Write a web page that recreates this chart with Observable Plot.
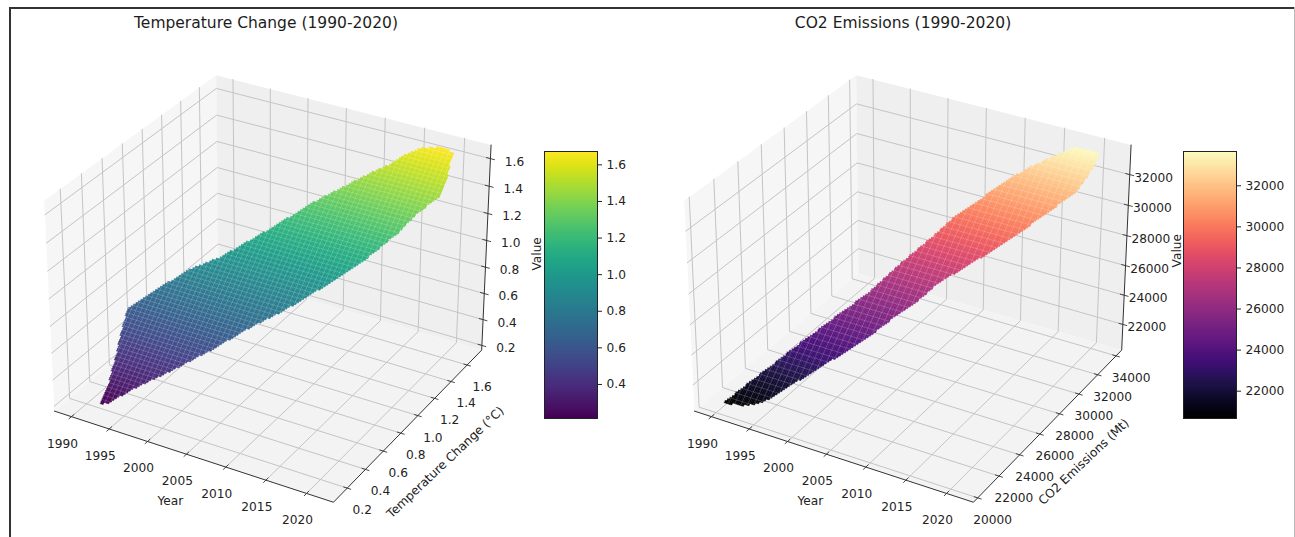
<!DOCTYPE html>
<html><head><meta charset="utf-8">
<script src="https://cdn.jsdelivr.net/npm/d3@7"></script>
<script src="https://cdn.jsdelivr.net/npm/@observablehq/plot@0.6"></script>
<style>
html,body{margin:0;padding:0;background:#fff;font-family:"DejaVu Sans",sans-serif}
#page{position:relative;width:1295px;height:537px;overflow:hidden;background:#fff}
#page>*{position:absolute}
.title{font-size:15.5px;color:#1c1c1c;white-space:nowrap;transform:translateX(-50%)}
</style></head><body><div id="page"></div>
<script>
const yearTicks=[1990,1995,2000,2005,2010,2015,2020];
const tempTicks=[0.2,0.4,0.6,0.8,1.0,1.2,1.4,1.6];
const tempBarTicks=[0.4,0.6,0.8,1.0,1.2,1.4,1.6];
const co2Ticks=[20000,22000,24000,26000,28000,30000,32000,34000];
const co2ZTicks=[22000,24000,26000,28000,30000,32000];
// outline of each surface
const tempHullYear=[1991.9,1992.7,1995,1999,2002.2,2005.1,2008.3,2011.4,2014.7,2017.4,2018.9,2020.3,2020.5,2020.1,2019.9,2018.2,2016,2014.2,2013.1,2011.5,2009.7,2008.2,2007,2002.5,1998.4,1995.2,1990.2,1990.4,1991.1,1991.9];
const tempHullValue=[0.2,0.21,0.304,0.445,0.567,0.69,0.807,0.941,1.091,1.258,1.379,1.449,1.52,1.591,1.66,1.667,1.641,1.581,1.532,1.479,1.414,1.357,1.316,1.12,0.951,0.856,0.629,0.557,0.438,0.274];
const co2HullYear=[1990.2,1992.3,1994.2,1995.4,1997.3,1999.3,2001.8,2003.9,2005.4,2007.3,2008.7,2012.3,2014.6,2017.5,2019.8,2020.6,2020.5,2017.7,2015.8,2013.4,2010.8,2009.1,2007.3,2005.5,2003.5,2001.2,1998.6,1997.6,1995.5,1994,1992];
const co2HullValue=[20564,20652,20917,21241,22031,22831,23802,24729,25482,26350,27175,28565,29471,30831,31901,32992,33562,33575,33082,32370,31401,30538,29759,28643,27517,26073,24836,24333,23316,22520,21513];

const EL=Math.PI/6,AZ=-Math.PI/3,DIST=10,BOX=[1.1905,1.1905,0.8929],S=2685,CX=271.5,CY=278;
const n=[Math.cos(EL)*Math.cos(AZ),Math.cos(EL)*Math.sin(AZ),Math.sin(EL)];
const ux=[-n[1],n[0],0].map(d=>d/Math.hypot(n[0],n[1]));
const vx=[n[1]*ux[2]-n[2]*ux[1],n[2]*ux[0]-n[0]*ux[2],n[0]*ux[1]-n[1]*ux[0]];
const dot=(a,b)=>a[0]*b[0]+a[1]*b[1]+a[2]*b[2];
function project(u,v,w){
  const p=[(u-.5)*BOX[0]-DIST*n[0],(v-.5)*BOX[1]-DIST*n[1],(w-.5)*BOX[2]-DIST*n[2]];
  const W=-dot(p,n);
  return [CX+S*dot(p,ux)/W,CY-S*dot(p,vx)/W];
}
const xLim=[1987.72,2023.27],gridYears=[1990,2020.6];
function chart(c){
  const U=t=>(t-xLim[0])/(xLim[1]-xLim[0]),V=t=>(t-c.yLim[0])/(c.yLim[1]-c.yLim[0]),Wz=t=>(t-c.zLim[0])/(c.zLim[1]-c.zLim[0]);
  const P=(u,v,w)=>{const [x,y]=project(u,v,w);return {x,y};};
  const poly=(id,pts,o={})=>pts.map(p=>({id,...P(...p),...o}));
  const panes=[
    poly("l",[[0,0,0],[0,1,0],[0,1,1],[0,0,1]],{f:"#f6f6f6"}),
    poly("b",[[0,1,0],[1,1,0],[1,1,1],[0,1,1]],{f:"#efefef"}),
    poly("f",[[0,0,0],[1,0,0],[1,1,0],[0,1,0]],{f:"#f3f3f3"})].flat();
  const grid=[
    ...yearTicks.flatMap(t=>poly("x"+t,[[U(t),0,0],[U(t),1,0],[U(t),1,1]])),
    ...c.yTicks.flatMap(t=>poly("y"+t,[[0,V(t),1],[0,V(t),0],[1,V(t),0]])),
    ...c.zTicks.flatMap(t=>poly("z"+t,[[1,1,Wz(t)],[0,1,Wz(t)],[0,0,Wz(t)]]))];
  const axes=poly("a",[[0,0,0],[1,0,0],[1,1,0],[1,1,1]]);
  const ticks=[
    ...yearTicks.flatMap(t=>poly("x"+t,[[U(t),-.014,0],[U(t),.014,0]])),
    ...c.yTicks.flatMap(t=>poly("y"+t,[[1-.012,V(t),0],[1+.012,V(t),0]])),
    ...c.zTicks.flatMap(t=>poly("z"+t,[[1-.014,1,Wz(t)],[1+.014,1,Wz(t)]]))];
  const hull=c.hullYear.map((y,i)=>[y,c.hullValue[i]]);
  const S3=(yr,T)=>P(U(yr),V(T),Wz(T));
  const T0=d3.min(c.hullValue),T1=d3.max(c.hullValue),[Y0,Y1]=gridYears;
  const N=150,cells=[],dy=(Y1-Y0)/N,dt=(T1-T0)/N;
  for(let i=0;i<N;i++)for(let j=0;j<N;j++){
    const a=Y0+i*dy,b=T0+j*dt;
    if(!d3.polygonContains(hull,[a+dy/2,b+dt/2]))continue;
    const value=b+dt/2,id=i*N+j;
    [[a,b],[a+dy,b],[a+dy,b+dt],[a,b+dt]].forEach(q=>cells.push({id,value,...S3(q[0],q[1])}));
  }
  const mesh=[];
  const run=(id,f)=>{const s=d3.range(0,401).map(k=>f(k/400)).filter(q=>d3.polygonContains(hull,q));
    if(s.length>1){mesh.push({id,...S3(...s[0])},{id,...S3(...s[s.length-1])});}};
  for(let i=0;i<=c.meshYears;i++){const yr=Y0+(Y1-Y0)*i/c.meshYears;run("a"+i,k=>[yr,T0+(T1-T0)*k]);}
  for(let j=0;j<=c.meshValues;j++){const T=T0+(T1-T0)*j/c.meshValues;run("b"+j,k=>[Y0+(Y1-Y0)*k,T]);}
  const txt=(rows,o)=>Plot.text(rows,{x:"x",y:"y",text:"t",fontSize:12.2,fill:"#222",...o});
  const lab=(arr,f,fmt)=>arr.map(t=>({...f(t),t:fmt(t)}));
  return Plot.plot({width:640,height:537,margin:0,x:{axis:null,domain:[0,640],range:[0,640]},y:{axis:null,domain:[0,537],range:[0,537]},
    color:{type:"linear",scheme:c.scheme,domain:c.colorDomain},
    style:{background:"transparent",fontFamily:"DejaVu Sans",overflow:"visible"},
    marks:[
     Plot.line(panes,{x:"x",y:"y",z:"id",fill:"f",stroke:"none"}),
     Plot.line(grid,{x:"x",y:"y",z:"id",stroke:"#c4c4c4",strokeWidth:1}),
     Plot.line(axes,{x:"x",y:"y",z:"id",stroke:"#333",strokeWidth:1}),
     Plot.line(ticks,{x:"x",y:"y",z:"id",stroke:"#333",strokeWidth:.9}),
     Plot.line(cells,{x:"x",y:"y",z:"id",fill:"value",stroke:"value",strokeWidth:.6}),
     Plot.line(mesh,{x:"x",y:"y",z:"id",stroke:"#fff",strokeOpacity:.25,strokeWidth:.7}),
     txt(lab(yearTicks,t=>P(U(t),0,0),String),{dx:-9,dy:27}),
     txt(lab(c.yTicks,t=>P(1,V(t),0),c.fmt),{dx:15,dy:22}),
     txt(lab(c.zTicks,t=>P(1,1,Wz(t)),c.fmt),{dx:24,dy:3}),
     txt([{...P(U(2005),0,0),t:"Year"}],{dx:-16,dy:47}),
     txt([{...P(1,V(c.yMid),0),t:c.yLabel}],{dx:c.ylDx,dy:c.ylDy,rotate:-43.4}),
     txt([{...P(1,1,Wz(c.zMid)),t:"Value"}],{dx:c.zlDx,dy:0,rotate:-90})
    ]});
}
function colorbar(c){
  const L=d3.range(256),[a,b]=c.colorDomain,h=(b-a)/256;
  return Plot.plot({width:120,height:537,marginTop:151,marginBottom:119,marginLeft:0,marginRight:67,
    x:{axis:null,domain:[0,1]},y:{domain:[a,b],axis:null},color:{type:"linear",scheme:c.scheme,domain:c.colorDomain},
    style:{background:"transparent",fontFamily:"DejaVu Sans",overflow:"visible"},
    marks:[
     Plot.rect(L,{x1:0,x2:1,y1:i=>a+i*h,y2:i=>a+(i+1)*h,fill:i=>a+(i+.5)*h,shapeRendering:"crispEdges",inset:0}),
     Plot.frame({stroke:"#222",strokeWidth:1}),
     Plot.axisY(c.barTicks,{anchor:"right",tickSize:4,tickPadding:5,fontSize:12.2,label:null,tickFormat:c.fmt,color:"#222"})
    ]});
}
const page=document.getElementById("page");
function add(el,l,t){el.style.left=l+"px";el.style.top=t+"px";page.appendChild(el);return el;}
const cL={title:"Temperature Change (1990-2020)",yLim:[.0517,1.784],zLim:[.1633,1.698],yTicks:tempTicks,zTicks:tempTicks,barTicks:tempBarTicks,
  scheme:"viridis",colorDomain:[.214,1.673],yLabel:"Temperature Change (°C)",yMid:.9,zMid:.9,ylDx:36,ylDy:38,zlDx:51,fmt:d3.format(".1f"),hullYear:tempHullYear,hullValue:tempHullValue,meshYears:51,meshValues:76};
const cR={title:"CO2 Emissions (1990-2020)",yLim:[19604,34621],zLim:[20220,33904],yTicks:co2Ticks,zTicks:co2ZTicks,barTicks:co2ZTicks,
  scheme:"magma",colorDomain:[20670,33670],yLabel:"CO2 Emissions (Mt)",yMid:27000,zMid:27000,ylDx:34,ylDy:38,zlDx:51,fmt:d3.format("d"),hullYear:co2HullYear,hullValue:co2HullValue,meshYears:40,meshValues:55};
add(chart(cL),0,0);add(chart(cR),639.5,0);
add(colorbar(cL),544,0);add(colorbar(cR),1183,0);
for(const [c,x] of [[cL,266],[cR,903]]){const d=document.createElement("div");d.className="title";d.textContent=c.title;add(d,x,14);}
for(const [l,t,w,h,b] of [[9,7,1.5,530,"#333"],[9,7,1286,1.5,"#333"],[1294,7,1,530,"#bbb"]]){const d=document.createElement("div");Object.assign(d.style,{width:w+"px",height:h+"px",background:b});add(d,l,t);}
</script></body></html>
